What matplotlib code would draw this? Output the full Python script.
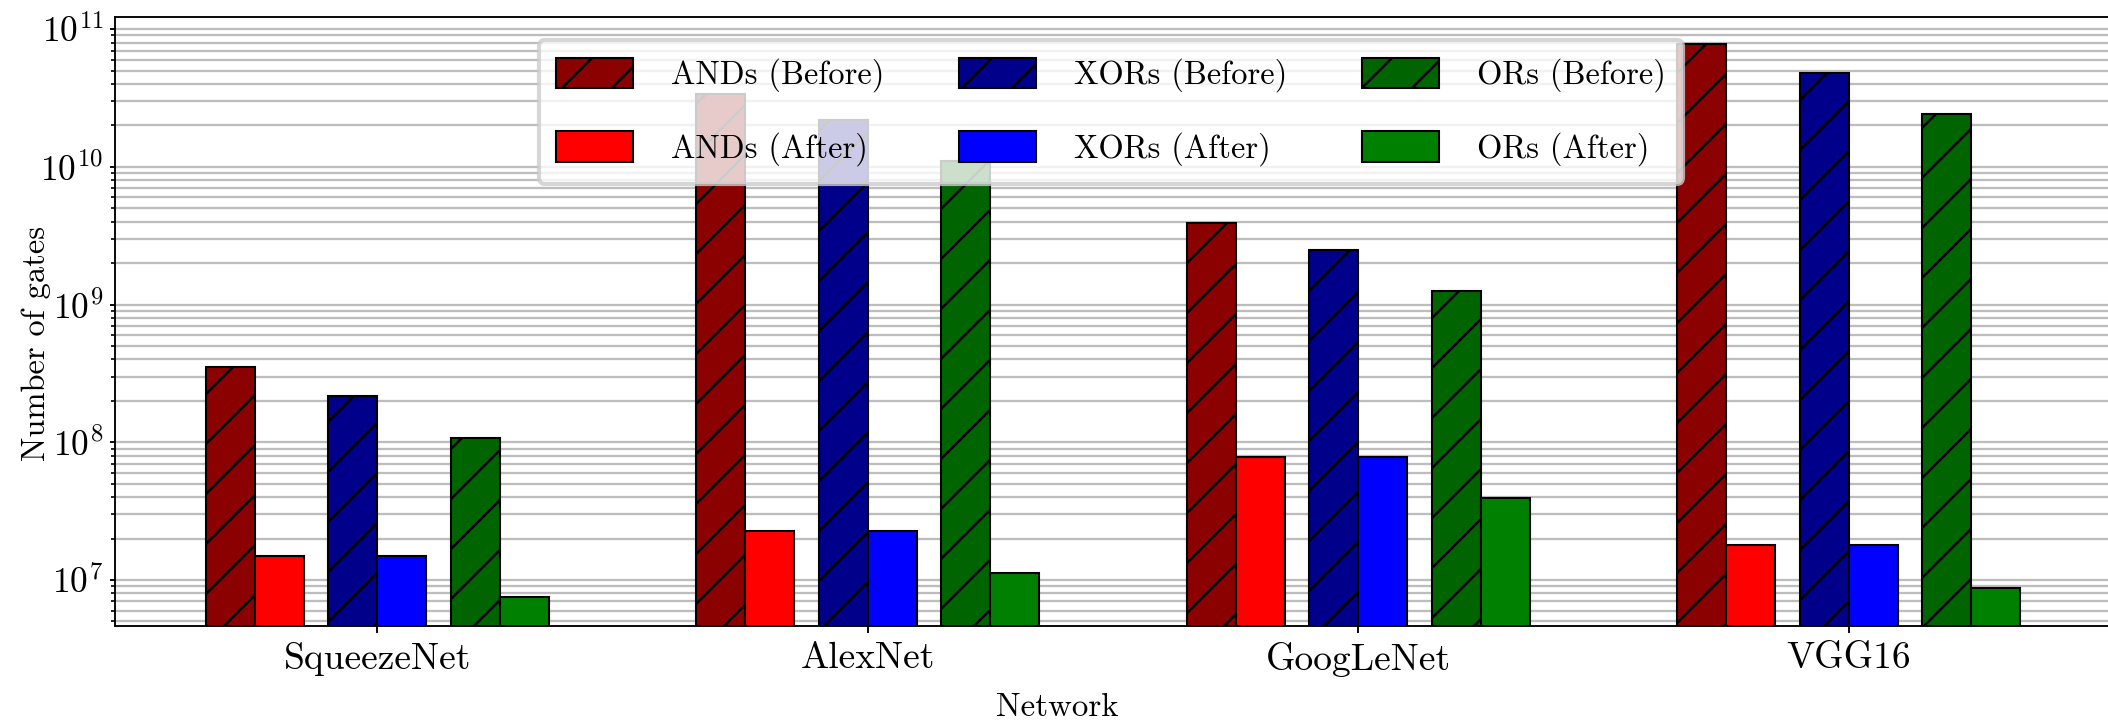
import numpy as np
import matplotlib
matplotlib.use("Agg")
import matplotlib.pyplot as plt

# gate counts per network, before and after the optimisation
networks = ["SqueezeNet", "AlexNet", "GoogLeNet", "VGG16"]
ands_before = [3.5e8, 3.4e10, 3.9e9, 7.8e10]
ands_after = [1.5e7, 2.27e7, 7.85e7, 1.78e7]
xors_before = [2.15e8, 2.2e10, 2.5e9, 4.83e10]
xors_after = [1.5e7, 2.27e7, 7.85e7, 1.78e7]
ors_before = [1.07e8, 1.1e10, 1.25e9, 2.41e10]
ors_after = [7.5e6, 1.12e7, 3.92e7, 8.8e6]

plt.rcParams["font.family"] = "cmr10"
plt.rcParams["mathtext.fontset"] = "cm"
plt.rcParams["axes.formatter.use_mathtext"] = True
plt.rcParams["axes.unicode_minus"] = False
plt.rcParams["hatch.linewidth"] = 0.6
plt.rcParams["font.size"] = 8.5

fig = plt.figure(figsize=(2108 / 300, 728 / 300), dpi=300)
ax = fig.add_axes([115 / 2108, 102 / 728, 1996 / 2108, 608.7 / 728])

x = np.arange(len(networks))
w = 0.1
series = [
    (ands_before, -0.30, "darkred", "//", "ANDs (Before)"),
    (ands_after, -0.20, "red", "", "ANDs (After)"),
    (xors_before, -0.05, "darkblue", "//", "XORs (Before)"),
    (xors_after, 0.05, "blue", "", "XORs (After)"),
    (ors_before, 0.20, "darkgreen", "//", "ORs (Before)"),
    (ors_after, 0.30, "green", "", "ORs (After)"),
]
for vals, off, col, hatch, lab in series:
    ax.bar(x + off, vals, w, color=col, edgecolor="black", linewidth=0.5,
           hatch=hatch, label=lab)

ax.set_yscale("log")
ax.set_ylim(4.63e6, 1.22e11)
ax.set_xlim(-0.535, 3.535)
ax.set_xticks(x)
ax.set_xticklabels(networks, fontsize=9)

ax.set_axisbelow(True)
ax.yaxis.grid(True, which="both", color="0.74", linewidth=0.55)
ax.xaxis.grid(False)

for s in ax.spines.values():
    s.set_linewidth(0.45)
ax.tick_params(axis="y", which="major", length=1.3, width=0.45, pad=1.5)
ax.tick_params(axis="y", which="minor", length=1.0, width=0.4)
ax.tick_params(axis="x", which="major", length=1.7, width=0.45, pad=2.2)
ax.tick_params(axis="x", which="minor", length=0)

ax.set_xlabel("Network", fontsize=7.9)
ax.set_ylabel("Number of gates", fontsize=7.8)
ax.xaxis.set_label_coords(0.472, -0.11)
ax.yaxis.set_label_coords(-0.032, 0.465)

ax.legend(ncol=3, loc="upper center", bbox_to_anchor=(0.499, 0.9627),
          borderaxespad=0, fontsize=7.8, handlelength=2.36, handleheight=1.05,
          handletextpad=1.17, columnspacing=2.3, labelspacing=1.2,
          borderpad=0.55, framealpha=0.8)

fig.savefig("out.png", dpi=300)
